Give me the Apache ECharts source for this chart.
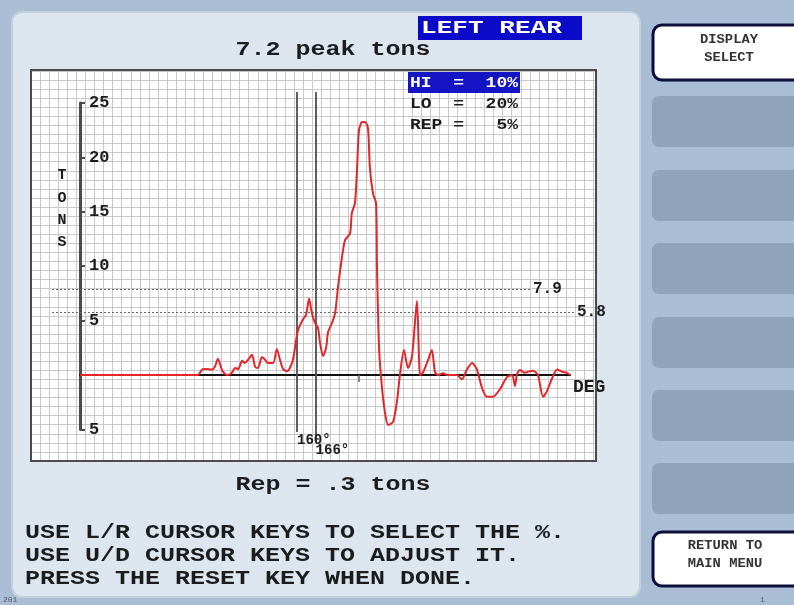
<!DOCTYPE html>
<html><head><meta charset="utf-8">
<script src="https://cdn.jsdelivr.net/npm/echarts@6/dist/echarts.min.js"></script>
<style>html,body{margin:0;padding:0;background:#a9bed5}#c{width:794px;height:605px}</style>
</head><body><div id="c"></div>
<script>
// ---- data ----
const degrees = [90,128,129.4,130.3,132.6,133.5,134.5,135.8,136.8,137.7,139,140,141,142.3,143.2,144.2,145.5,146.5,147.4,148.7,149.7,150.6,152.3,153.5,154.5,155.5,156.8,157.7,158.7,160.3,161.9,162.9,163.9,164.8,165.8,166.8,167.4,168.4,169.4,170,171.3,172.3,173.2,174.5,175.5,177.1,177.7,178.7,179.4,180,181,181.9,182.9,183.5,184.5,185.5,185.8,186.5,187.4,188.4,189.4,191,192.3,193.2,194.5,195.8,197.1,198.7,199.7,200.6,202.3,203.5,204.5,205.5,207.1,208.4,211.6,213.2,214.8,216.5,218.1,219.7,221.3,223.2,225.5,227.7,229.4,230.3,231,231.9,233.5,234.5,236.1,237.7,239.4,240.6,242.3,243.9,245.5,247.1,248];
const tons = [0,0,0.5,0.55,0.5,0.75,1.5,0.45,0.1,0,0.2,0.65,0.55,1.3,1.1,1.4,1.85,0.75,0.65,1.65,1.4,1.1,1.1,2.4,1.4,0.55,0.35,0.65,1.4,4.1,5.1,5.5,7.0,5.7,4.8,4.3,3.0,1.75,2.5,3.9,4.8,5.7,8.0,10.8,12.4,13.0,14.9,15.8,19.1,22.5,23.25,23.25,22.7,19.1,16.7,15.8,9.9,2.3,-1.1,-3.5,-4.6,-4.3,-2.3,0,2.3,0.65,1.7,6.8,0,0.2,1.4,2.3,0.3,0,0.15,0,0,-0.4,0.5,1.1,0.45,-1.2,-2.0,-2.0,-1.3,-0.2,0,-1.0,0.1,0.45,0.2,0.3,0.4,0,-2.0,-1.5,-0.3,0.5,0.3,0.2,0];
const cursorDegrees = [160, 166];
const limitTons = [7.9, 5.8];
const xTickDegrees = [180];
const settingNames = ['HI', 'LO', 'REP'];
const settingPercents = [10, 20, 5];
const peakTons = '7.2';
const repTons = '.3';
const stationName = 'LEFT REAR';
const yAxisTitle = 'TONS';
const xAxisTitle = 'DEG';
const instructions = [
  'USE L/R CURSOR KEYS TO SELECT THE %.',
  'USE U/D CURSOR KEYS TO ADJUST IT.',
  'PRESS THE RESET KEY WHEN DONE.'
];
const buttonLabelsTop = ['DISPLAY', 'SELECT'];
const buttonLabelsBottom = ['RETURN TO', 'MAIN MENU'];

// ---- layout helpers ----
const MONO = "'Liberation Mono','DejaVu Sans Mono',monospace";
const X0 = 80, PXD = 3.1, Y0 = 375, PXT = 10.88;
const degAt = px => 90 + (px - X0) / PXD;
const tonAt = py => (Y0 - py) / PXT;
const INK = '#1c1c1c';

function txt(text, x, y, size, opts) {
  opts = opts || {};
  return {
    type: 'text', x: x, y: y, z: 50, scaleX: opts.sx || 1, silent: true,
    style: {
      text: text, fill: opts.fill || INK,
      fontFamily: opts.family || MONO, fontSize: size, fontWeight: opts.weight || 'bold',
      align: opts.align || 'left', verticalAlign: 'middle', lineHeight: opts.lh
    }
  };
}

const graphics = [];
// main panel
graphics.push({type:'rect', z:-10, silent:true, shape:{x:12,y:12,width:628,height:585,r:10},
  style:{fill:'#dde6ef', stroke:'#c2cfdd', lineWidth:2}});
// right buttons
[96,170,243,317,390,463].forEach(t => graphics.push({type:'rect', z:-10, silent:true,
  shape:{x:652,y:t,width:160,height:51,r:7}, style:{fill:'#8fa4bb'}}));
[[25,55],[532,54]].forEach(b => graphics.push({type:'rect', z:-10, silent:true,
  shape:{x:653,y:b[0],width:160,height:b[1],r:9}, style:{fill:'#ffffff', stroke:'#0d0d3c', lineWidth:3}}));
graphics.push(txt(buttonLabelsTop[0], 729, 40, 12, {align:'center', sx:1.15, fill:'#333'}));
graphics.push(txt(buttonLabelsTop[1], 729, 58, 12, {align:'center', sx:1.15, fill:'#333'}));
graphics.push(txt(buttonLabelsBottom[0], 725, 546, 12, {align:'center', sx:1.15, fill:'#333'}));
graphics.push(txt(buttonLabelsBottom[1], 725, 564, 12, {align:'center', sx:1.15, fill:'#333'}));
// chart box frame
graphics.push({type:'rect', z:40, silent:true, shape:{x:31,y:70,width:565,height:391},
  style:{fill:'none', stroke:'#4a4a4a', lineWidth:2}});
// station box
graphics.push({type:'rect', z:20, silent:true, shape:{x:418,y:16,width:164,height:24}, style:{fill:'#0a0ac8'}});
graphics.push(txt(stationName, 421, 28, 18, {fill:'#ffffff', sx:1.45}));
// titles
graphics.push(txt(peakTons + ' peak tons', 333, 50, 20, {align:'center', sx:1.25}));
graphics.push(txt('Rep = ' + repTons + ' tons', 333, 485, 20, {align:'center', sx:1.25}));
instructions.forEach((s, i) => graphics.push(txt(s, 25, 533 + i * 23, 20, {sx:1.25})));
// settings table
graphics.push({type:'rect', z:20, silent:true, shape:{x:408,y:72,width:112,height:21}, style:{fill:'#1414c4'}});
settingNames.forEach((n, i) => {
  const v = settingPercents[i] + '%';
  const s = (n + '    ').slice(0, 4) + '=' + ('     ' + v).slice(-5);
  graphics.push(txt(s, 410, 83 + i * 21, 15, {sx:1.2, fill: i === 0 ? '#ffffff' : INK}));
});
// y axis title
graphics.push(txt(yAxisTitle.split('').join('\n'), 62, 209, 15, {align:'center', lh:22.3}));
// tiny corner marks
graphics.push(txt('201', 3, 600, 8, {weight:'normal', fill:'#556'}));
graphics.push(txt('1', 760, 600, 8, {weight:'normal', fill:'#556'}));

const hidden = {axisLine:{show:false}, axisTick:{show:false}, axisLabel:{show:false}};

const option = {
  animation: false,
  backgroundColor: '#a9bed5',
  graphic: {elements: graphics},
  grid: [
    {left:31, top:70, width:565, height:391, show:true, backgroundColor:'#ffffff', borderWidth:0, containLabel:false},
    {left:X0, top:Y0 - 25 * PXT, width:490, height:30 * PXT},
    {left:X0, top:92, width:490, height:350},
    {left:52, top:Y0 - 25 * PXT, width:522, height:30 * PXT}
  ],
  xAxis: [
    Object.assign({gridIndex:0, type:'value', min:0, max:565 / 9.07, interval:1,
      splitLine:{show:true, lineStyle:{color:'#c9c9c9', width:1}}}, hidden),
    {gridIndex:1, type:'value', min:90, max:degAt(570),
      axisLine:{onZero:true, lineStyle:{color:'#111', width:2}},
      axisTick:{show:true, customValues:xTickDegrees, length:7, lineStyle:{color:'#666', width:1.5}},
      axisLabel:{show:false}, splitLine:{show:false},
      name:xAxisTitle, nameLocation:'end', nameGap:3,
      nameTextStyle:{fontFamily:MONO, fontWeight:'bold', fontSize:18, color:INK, align:'left', verticalAlign:'top', padding:[3,0,0,0]}},
    Object.assign({gridIndex:2, type:'value', min:90, max:degAt(570), splitLine:{show:false}}, hidden),
    Object.assign({gridIndex:3, type:'value', min:degAt(52), max:degAt(574), splitLine:{show:false}}, hidden)
  ],
  yAxis: [
    Object.assign({gridIndex:0, type:'value', min:0, max:391 / 9.07, interval:1,
      splitLine:{show:true, lineStyle:{color:'#c9c9c9', width:1}}}, hidden),
    {gridIndex:1, type:'value', min:-5, max:25, interval:5,
      axisLine:{show:true, lineStyle:{color:'#4a4a4a', width:3}},
      axisTick:{show:true, inside:true, length:5, lineStyle:{color:'#4a4a4a', width:2}},
      axisLabel:{inside:true, margin:9, fontFamily:MONO, fontWeight:'bold', fontSize:17, color:INK,
        formatter: v => v === 0 ? '' : String(Math.abs(v))},
      splitLine:{show:false}},
    Object.assign({gridIndex:2, type:'value', min:tonAt(442), max:tonAt(92), splitLine:{show:false}}, hidden),
    Object.assign({gridIndex:3, type:'value', min:-5, max:25, splitLine:{show:false}}, hidden)
  ],
  series: [
    {type:'line', xAxisIndex:2, yAxisIndex:2, data:[], silent:true,
      markLine:{silent:true, symbol:'none', animation:false,
        lineStyle:{color:'#4e4e4e', width:1.8, type:'solid'},
        label:{show:true, position:'start', align:'left', verticalAlign:'top', distance:1,
          fontFamily:MONO, fontWeight:'bold', fontSize:14, color:INK},
        data: cursorDegrees.map((d, i) => [
          {coord:[d, i === 0 ? tonAt(432) : tonAt(442)], label:{formatter: d + '°'}},
          {coord:[d, tonAt(92)]}
        ])}},
    {type:'line', xAxisIndex:3, yAxisIndex:3, data:[], silent:true,
      markLine:{silent:true, symbol:'none', animation:false,
        lineStyle:{color:'#666', width:1, type:[2,2]},
        label:{show:true, position:'end', distance:3,
          fontFamily:MONO, fontWeight:'bold', fontSize:16, color:INK},
        data: limitTons.map((t, i) => [
          {coord:[degAt(52), t]},
          {coord:[i === 0 ? degAt(530) : degAt(574), t], label:{formatter: t.toFixed(1)}}
        ])}},
    {type:'line', xAxisIndex:1, yAxisIndex:1, z:5, showSymbol:false, smooth:0.25,
      lineStyle:{color:'#e4262a', width:2},
      data: degrees.map((d, i) => [d, tons[i]])}
  ]
};
const chart = echarts.init(document.getElementById('c'), null, {renderer:'canvas'});
chart.setOption(option);
</script></body></html>
